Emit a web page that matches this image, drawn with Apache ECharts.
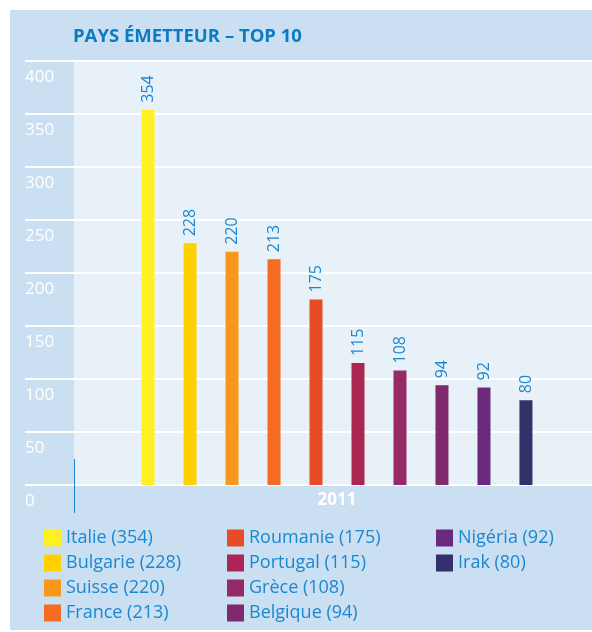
<!DOCTYPE html>
<html>
<head>
<meta charset="utf-8">
<script src="https://cdn.jsdelivr.net/npm/echarts@6/dist/echarts.min.js"></script>
<style>
  html, body { margin: 0; padding: 0; background: #ffffff; }
  #panel { position: absolute; left: 10px; top: 10px; width: 582px; height: 620px; background: #cadff2; }
  #inner { position: absolute; left: 74px; top: 61px; width: 518px; height: 424px; background: #e8f0f8; }
  #chart { position: absolute; left: 0; top: 0; width: 592px; height: 632px; }
</style>
</head>
<body>
<div id="panel"></div>
<div id="inner"></div>
<div id="chart"></div>
<script>
// Top 10 sending countries, 2011
const year = ['2011'];
const countries = ['Italie', 'Bulgarie', 'Suisse', 'France', 'Roumanie', 'Portugal', 'Grèce', 'Belgique', 'Nigéria', 'Irak'];
const counts = [354, 228, 220, 213, 175, 115, 108, 94, 92, 80];
const colors = ['#fff022', '#ffd100', '#f7971e', '#f36c21', '#e84c25', '#ac2653', '#952a66', '#7e2a6d', '#6b2a7f', '#323169'];
const legendColumns = [
  ['Italie', 'Bulgarie', 'Suisse', 'France'],
  ['Roumanie', 'Portugal', 'Grèce', 'Belgique'],
  ['Nigéria', 'Irak']
];
const yMin = 0, yMax = 400, yStep = 50;

const FONT = '"Open Sans", "Noto Sans", sans-serif';
const BLUE = '#1a88d0';

const chart = echarts.init(document.getElementById('chart'), null, { renderer: 'canvas' });

const series = countries.map((name, i) => ({
  name: name,
  type: 'bar',
  xAxisIndex: 0,
  yAxisIndex: 0,
  data: [counts[i]],
  barWidth: 13,
  barGap: '223%',
  itemStyle: { color: colors[i] },
  label: {
    show: true,
    position: 'top',
    rotate: 90,
    distance: 7,
    align: 'left',
    verticalAlign: 'middle',
    color: BLUE,
    fontFamily: FONT,
    fontSize: 16
  }
}));

const legendLefts = [44, 227, 436];
const legends = legendColumns.map((col, k) => ({
  data: col,
  left: legendLefts[k],
  top: 529,
  orient: 'vertical',
  padding: 0,
  itemWidth: 17,
  itemHeight: 17,
  itemGap: 7,
  icon: 'rect',
  selectedMode: false,
  textStyle: { color: BLUE, fontFamily: FONT, fontSize: 18, lineHeight: 17, padding: 0 },
  formatter: name => name + ' (' + counts[countries.indexOf(name)] + ')'
}));

chart.setOption({
  animation: false,
  backgroundColor: 'transparent',
  title: {
    text: 'PAYS ÉMETTEUR – TOP 10',
    left: 73,
    top: 27,
    padding: 0,
    textStyle: { color: '#0b7cc2', fontFamily: FONT, fontWeight: 'bold', fontSize: 18.5 }
  },
  legend: legends,
  grid: [
    { left: 82, right: 0, top: 61, bottom: 147, show: false },
    { left: 25, width: 57, top: 61, bottom: 147, show: false }
  ],
  xAxis: [
    {
      gridIndex: 0,
      type: 'category',
      data: year,
      axisLine: { show: false },
      axisTick: { show: false },
      axisLabel: { color: '#ffffff', fontFamily: FONT, fontWeight: 'bold', fontSize: 17, margin: 7 }
    },
    { gridIndex: 1, type: 'category', data: year, show: false }
  ],
  yAxis: [
    {
      gridIndex: 0,
      type: 'value',
      min: yMin, max: yMax, interval: yStep,
      axisLine: { show: false },
      axisTick: { show: false },
      axisLabel: { show: false },
      splitLine: { show: true, lineStyle: { color: '#ffffff', width: 2 } }
    },
    {
      gridIndex: 1,
      type: 'value',
      min: yMin, max: yMax, interval: yStep,
      axisLine: { show: false },
      axisTick: { show: false },
      axisLabel: {
        inside: true,
        margin: 0,
        color: '#ffffff',
        fontFamily: FONT,
        fontSize: 17,
        verticalAlign: 'top',
        padding: [8, 0, 0, 0]
      },
      splitLine: { show: true, lineStyle: { color: '#ffffff', width: 2 } }
    }
  ],
  graphic: [
    {
      type: 'line',
      z: 10,
      shape: { x1: 74.5, y1: 459, x2: 74.5, y2: 513 },
      style: { stroke: '#1a88d0', lineWidth: 1 }
    }
  ],
  series: series
});
</script>
</body>
</html>
